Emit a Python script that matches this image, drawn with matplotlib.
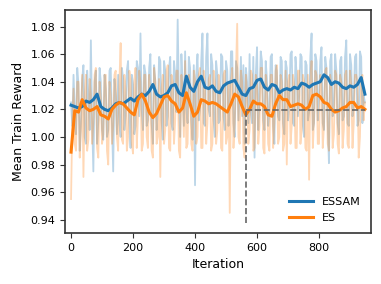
import matplotlib.pyplot as plt
import numpy as np

# raw per-iteration reward, read every 4 iterations:
# "_a" lists hold iterations 0, 8, 16, ...; "_b" lists hold 4, 12, 20, ...
raw_step = 4
essam_raw_a = [
    1.025, 1.045, 1.002, 1.038, 1.010, 1.052, 0.995, 1.030, 1.070, 0.975,
    1.048, 1.012, 1.040, 0.998, 1.035, 1.005, 1.050, 0.975, 1.030, 1.045,
    1.000, 1.042, 1.015, 1.055, 0.992, 1.038, 1.008, 1.050, 1.075, 1.005,
    1.046, 1.012, 1.060, 0.995, 1.040, 1.020, 1.055, 0.998, 1.048, 1.015,
    1.058, 1.005, 1.045, 1.085, 1.000, 1.038, 1.062, 1.010, 1.050, 0.998,
    0.965, 1.060, 1.020, 1.075, 1.008, 1.075, 1.015, 1.052, 1.000, 1.045,
    1.012, 1.058, 1.005, 1.048, 1.025, 1.062, 1.000, 1.050, 1.030, 1.015,
    0.995, 1.040, 1.060, 1.010, 0.985, 1.065, 1.030, 1.055, 1.005, 1.042,
    1.020, 1.060, 0.995, 1.048, 1.012, 1.055, 1.002, 1.050, 1.025, 1.062,
    1.008, 1.045, 1.030, 1.058, 1.000, 1.052, 1.018, 1.075, 1.010, 1.055,
    1.028, 1.065, 1.005, 1.050, 0.981, 1.060, 1.020, 1.048, 1.002, 1.058,
    1.015, 1.070, 1.008, 1.052, 1.025, 1.060, 1.012, 1.058, 1.030,
]
essam_raw_b = [
    1.008, 1.020, 1.050, 0.990, 1.042, 1.000, 1.048, 1.005, 1.012, 1.040,
    0.995, 1.050, 1.005, 1.045, 1.000, 1.048, 1.010, 1.042, 1.002, 1.010,
    1.050, 1.005, 1.048, 1.010, 1.045, 1.002, 1.055, 1.015, 1.020, 1.052,
    1.008, 1.050, 1.010, 1.052, 1.005, 1.058, 1.012, 1.055, 1.008, 1.050,
    1.010, 1.055, 1.018, 1.030, 1.060, 1.008, 1.020, 1.058, 1.012, 1.052,
    1.045, 1.012, 1.055, 1.010, 1.058, 1.020, 1.060, 1.012, 1.055, 1.010,
    1.060, 1.015, 1.055, 1.008, 1.062, 1.010, 1.055, 1.012, 1.058, 1.052,
    1.050, 1.010, 1.018, 1.058, 1.045, 1.005, 1.062, 1.012, 1.055, 1.008,
    1.058, 1.008, 1.052, 1.015, 1.058, 1.010, 1.055, 1.012, 1.060, 1.010,
    1.058, 1.015, 1.060, 1.008, 1.055, 1.012, 1.058, 1.005, 1.060, 1.012,
    1.055, 1.010, 1.058, 1.012, 1.055, 1.015, 1.060, 1.010, 1.055, 1.012,
    1.058, 1.010, 1.060, 1.015, 1.058, 1.008, 1.062, 1.010, 1.025,
]
es_raw_a = [
    0.955, 1.035, 0.990, 1.040, 1.005, 0.971, 1.045, 0.998, 1.030, 1.010,
    1.050, 0.985, 1.028, 1.002, 1.045, 0.980, 1.030, 1.008, 1.048, 0.990,
    1.068, 0.995, 1.035, 1.000, 1.042, 0.988, 1.050, 1.015, 1.040, 0.995,
    1.045, 0.992, 1.030, 0.985, 1.040, 1.000, 0.971, 1.045, 1.005, 1.052,
    0.990, 1.040, 1.012, 1.048, 0.985, 1.030, 1.055, 0.995, 1.035, 0.990,
    1.042, 1.000, 1.050, 0.992, 1.038, 1.010, 1.045, 0.995, 1.040, 1.005,
    1.035, 0.990, 1.048, 1.000, 0.945, 1.050, 1.010, 1.082, 0.995, 1.040,
    0.985, 1.030, 1.005, 1.045, 0.992, 1.040, 1.008, 1.050, 0.988, 1.035,
    0.990, 1.045, 1.010, 1.052, 1.000, 1.040, 0.995, 0.980, 1.045, 1.008,
    1.038, 0.992, 1.048, 1.005, 1.040, 0.990, 0.969, 1.055, 1.012, 1.045,
    0.995, 1.040, 1.008, 1.050, 0.990, 1.035, 1.002, 1.045, 0.988, 1.040,
    1.005, 1.048, 0.992, 1.038, 1.010, 1.045, 0.985, 1.040, 1.012,
]
es_raw_b = [
    1.010, 0.995, 1.040, 0.985, 1.045, 1.030, 0.990, 1.042, 0.995, 1.045,
    0.992, 1.040, 0.995, 1.045, 0.990, 1.040, 0.995, 1.045, 1.000, 1.040,
    0.998, 1.045, 0.990, 1.048, 0.995, 1.040, 0.992, 1.048, 0.990, 1.045,
    1.000, 1.045, 0.990, 1.050, 0.995, 1.042, 1.035, 0.995, 1.048, 0.992,
    1.045, 0.995, 1.048, 0.990, 1.045, 1.000, 0.992, 1.045, 0.995, 1.048,
    0.995, 1.045, 0.992, 1.048, 0.995, 1.042, 0.990, 1.048, 0.995, 1.045,
    0.992, 1.045, 0.995, 1.040, 1.040, 0.992, 1.045, 1.000, 1.048, 0.992,
    1.045, 0.995, 1.048, 0.990, 1.045, 0.995, 1.050, 0.992, 1.045, 0.995,
    1.045, 0.992, 1.048, 0.995, 1.045, 0.990, 1.048, 1.040, 0.995, 1.045,
    0.992, 1.048, 0.995, 1.045, 0.992, 1.045, 1.040, 0.992, 1.048, 0.995,
    1.045, 0.992, 1.048, 0.995, 1.045, 0.992, 1.048, 0.995, 1.045, 0.992,
    1.045, 0.995, 1.048, 0.992, 1.045, 1.040, 1.000, 1.045, 1.025,
]

# smoothed curves (sampled every 12 iterations)
smooth_step = 12
essam_smooth = [
    1.023, 1.022, 1.021, 1.022, 1.026, 1.025, 1.027, 1.031, 1.022, 1.020,
    1.019, 1.021, 1.024, 1.025, 1.024, 1.026, 1.028, 1.026, 1.029, 1.031,
    1.030, 1.033, 1.038, 1.031, 1.029, 1.030, 1.032, 1.037, 1.038, 1.032,
    1.030, 1.044, 1.036, 1.033, 1.040, 1.044, 1.036, 1.035, 1.037, 1.033,
    1.032, 1.037, 1.039, 1.040, 1.041, 1.036, 1.031, 1.030, 1.035, 1.036,
    1.041, 1.042, 1.036, 1.034, 1.038, 1.037, 1.032, 1.034, 1.035, 1.034,
    1.036, 1.035, 1.039, 1.038, 1.036, 1.038, 1.039, 1.040, 1.045, 1.043,
    1.038, 1.040, 1.039, 1.036, 1.035, 1.037, 1.036, 1.038, 1.043, 1.031,
]
es_smooth = [
    0.989, 1.019, 1.018, 1.027, 1.021, 1.019, 1.020, 1.022, 1.016, 1.015,
    1.013, 1.020, 1.023, 1.025, 1.024, 1.021, 1.018, 1.016, 1.027, 1.031,
    1.026, 1.018, 1.014, 1.017, 1.023, 1.029, 1.030, 1.026, 1.024, 1.018,
    1.021, 1.032, 1.024, 1.015, 1.018, 1.027, 1.026, 1.024, 1.025, 1.024,
    1.022, 1.020, 1.018, 1.024, 1.031, 1.029, 1.022, 1.016, 1.020, 1.026,
    1.024, 1.024, 1.022, 1.016, 1.015, 1.024, 1.030, 1.027, 1.027, 1.022,
    1.023, 1.024, 1.023, 1.020, 1.022, 1.030, 1.031, 1.029, 1.025, 1.024,
    1.020, 1.018, 1.019, 1.021, 1.022, 1.025, 1.025, 1.021, 1.022, 1.020,
]

# dashed marker: iteration and reward level
mark_iter = 565
mark_level = 1.0192
mark_floor = 0.938
last_iter = 948


def merge(a, b):
    out = np.empty(len(a) + len(b))
    out[0::2] = a
    out[1::2] = b
    return out


essam_raw = merge(essam_raw_a, essam_raw_b)
es_raw = merge(es_raw_a, es_raw_b)
x_raw = np.arange(len(essam_raw)) * raw_step
x_smooth = np.arange(len(essam_smooth)) * smooth_step

blue = '#1f77b4'
orange = '#ff7f0e'

fig = plt.figure(figsize=(3.81, 2.84), dpi=100)
ax = fig.add_axes([0.171, 0.180, 0.803, 0.785])

ax.plot(x_raw, essam_raw, color=blue, alpha=0.3, lw=1.3)
ax.plot(x_raw, es_raw, color=orange, alpha=0.3, lw=1.3)
ax.plot(x_smooth, essam_smooth, color=blue, lw=2.2, label='ESSAM')
ax.plot(x_smooth, es_smooth, color=orange, lw=2.2, label='ES')

ax.vlines(mark_iter, mark_floor, mark_level, colors='#666666', linestyles='--', lw=1.2)
ax.hlines(mark_level, mark_iter, last_iter, colors='#666666', linestyles='--', lw=1.2)

ax.set_xlim(-19, 968)
ax.set_ylim(0.9305, 1.092)
ax.set_xticks([0, 200, 400, 600, 800])
ax.set_yticks([0.94, 0.96, 0.98, 1.00, 1.02, 1.04, 1.06, 1.08])
ax.tick_params(labelsize=8, color='#333333')
ax.set_xlabel('Iteration', fontsize=9)
ax.set_ylabel('Mean Train Reward', fontsize=9)
for s in ax.spines.values():
    s.set_color('#333333')
    s.set_linewidth(1.2)

ax.legend(loc='lower right', frameon=False, fontsize=8, handlelength=2.2)

fig.savefig('out.png', dpi=100)
